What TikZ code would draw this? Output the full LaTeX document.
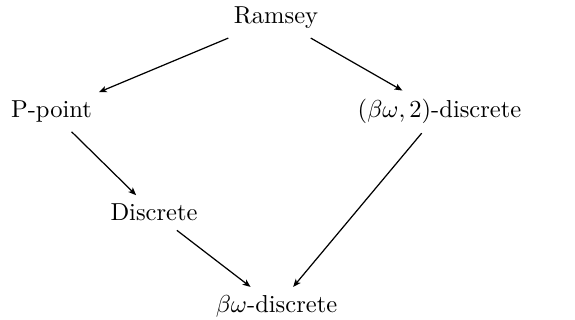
\documentclass[tikz,border=0pt]{standalone}
\usepackage{amsmath}
\usetikzlibrary{arrows.meta}
\begin{document}
\begin{tikzpicture}[x=0.408pt,y=-0.408pt,
  lbl/.style={anchor=base,inner sep=3.5pt},
  imp/.style={-{Stealth[length=3.2pt,width=2.6pt,inset=0.8pt]},line width=0.5pt}]
\useasboundingbox (0,0) rectangle (575,320);
\node[lbl] (r) at (276,24) {Ramsey};
\node[lbl] (p) at (51.5,118) {P-point};
\node[lbl] (b2) at (439.5,118) {$(\beta\omega,2)$-discrete};
\node[lbl] (d) at (154,221) {Discrete};
\node[lbl] (bd) at (276.5,313) {$\beta\omega$-discrete};
\draw[imp] (r) -- (p);
\draw[imp] (r) -- (b2);
\draw[imp] (p) -- (d);
\draw[imp] (b2) -- (bd);
\draw[imp] (d) -- (bd);
\end{tikzpicture}
\end{document}
